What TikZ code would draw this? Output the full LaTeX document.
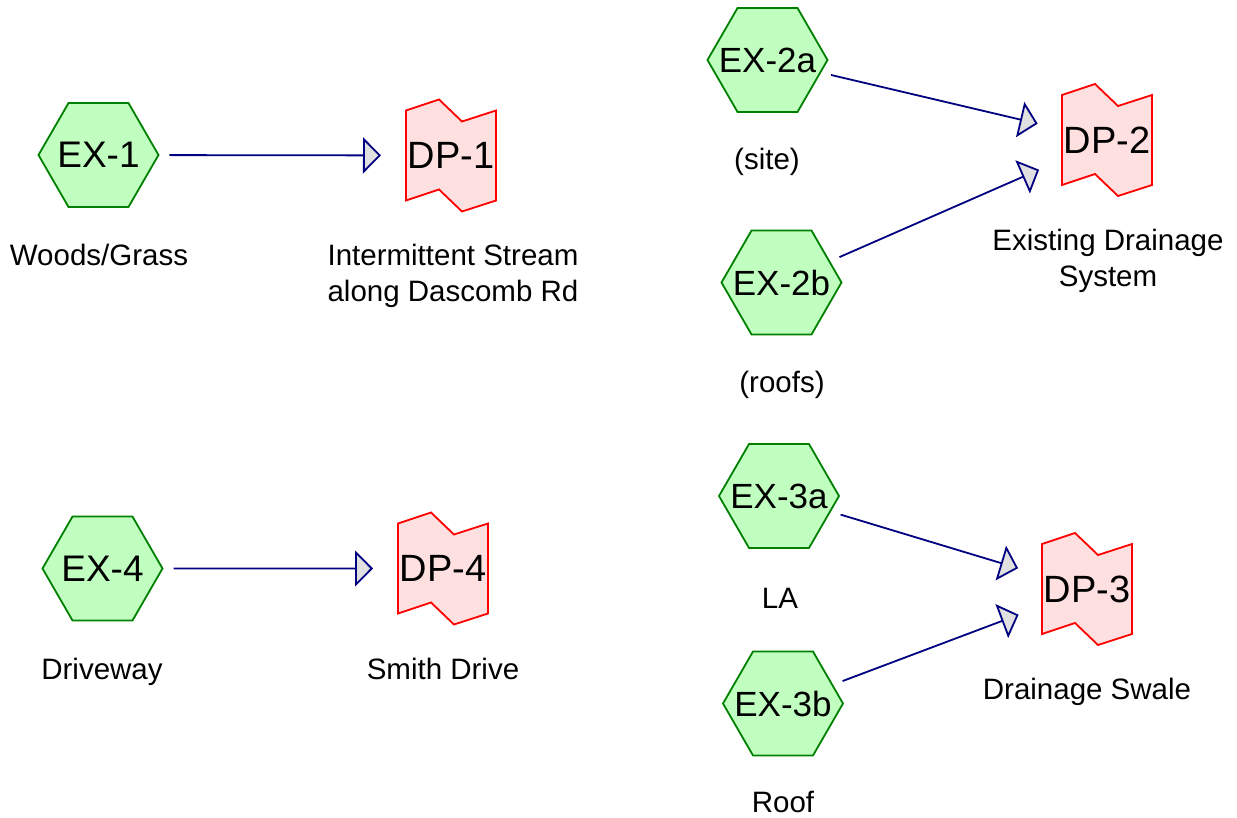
\documentclass[tikz,border=0pt]{standalone}
\usepackage{fontspec}
\setmainfont{Liberation Sans}
\usetikzlibrary{shapes.geometric,arrows.meta,backgrounds}
\definecolor{exfill}{HTML}{C0FFC0}
\definecolor{exdraw}{HTML}{008000}
\definecolor{dpfill}{HTML}{FFE0E0}
\definecolor{dpdraw}{HTML}{FF0000}
\definecolor{flowcol}{HTML}{000080}
\definecolor{tipfill}{HTML}{E0E0E0}
\newcommand{\hxtext}[1]{\makebox[0pt][c]{#1}}
\tikzset{
  exnode/.style={shape=regular polygon, regular polygon sides=6, minimum size=120pt,
    inner sep=0pt, outer sep=0pt, draw=exdraw, fill=exfill, line width=1.8pt,
    font=\fontsize{37}{40}\selectfont},
  exsmall/.style={font=\fontsize{35}{40}\selectfont},
  dpnode/.style={shape=rectangle, minimum width=90pt, minimum height=90pt,
    inner sep=0pt, outer sep=0pt, font=\fontsize{38}{42}\selectfont},
  dpshape/.style={draw=dpdraw, fill=dpfill, line width=1.8pt, line join=miter},
  lbl/.style={inner sep=0pt, outer sep=0pt, font=\fontsize{29.5}{36}\selectfont, align=center},
  flow/.style={draw=flowcol, line width=1.8pt, shorten <=11pt, shorten >=25pt,
    -{Triangle[length=18pt, width=36pt, fill=tipfill]}}
}
\begin{document}
\begin{tikzpicture}[x=1pt,y=-1pt]
\useasboundingbox (0,0) rectangle (1237,818);
% source hexagons
\node[exnode] (ex1)  at (98.5,155)   {\hxtext{EX-1}};
\node[exnode, exsmall] (ex2a) at (767.5,60)   {\hxtext{EX-2a}};
\node[exnode, exsmall] (ex2b) at (781.5,282.5) {\hxtext{EX-2b}};
\node[exnode, exsmall] (ex3a) at (779,496)    {\hxtext{EX-3a}};
\node[exnode, exsmall] (ex3b) at (783,703.5)  {\hxtext{EX-3b}};
\node[exnode] (ex4)  at (102.5,568.5) {\hxtext{EX-4}};
% design points
\node[dpnode] (dp1) at (451,155.5) {DP-1};
\node[dpnode] (dp2) at (1107,140)  {DP-2};
\node[dpnode] (dp3) at (1087,589)  {DP-3};
\node[dpnode] (dp4) at (443,568.5) {DP-4};
\begin{pgfonlayer}{background}
\foreach \d in {dp1,dp2,dp3,dp4}{
  \path[dpshape] (\d.north west) -- ++(33,-11) -- ++(23,22) -- ++(34,-11)
    -- ++(0,90) -- ++(-34,11) -- ++(-23,-22) -- ++(-33,11) -- cycle;
}
\end{pgfonlayer}
% labels
\node[lbl, anchor=base] (lex1) at (99,266) {Woods/Grass};
\node[lbl, anchor=north] (ldp1) at (453,244.5) {Intermittent Stream\\along Dascomb Rd};
\node[lbl, anchor=base] (lex2a) at (767,170) {(site)};
\node[lbl, anchor=base] (lex2b) at (782,392) {(roofs)};
\node[lbl, anchor=north] (ldp2) at (1108,229.5) {Existing Drainage\\System};
\node[lbl, anchor=base] (lex3a) at (780,608) {LA};
\node[lbl, anchor=base] (lex3b) at (783,812) {Roof};
\node[lbl, anchor=base] (ldp3) at (1087,699) {Drainage Swale};
\node[lbl, anchor=base] (lex4) at (102,679) {Driveway};
\node[lbl, anchor=base] (ldp4) at (443,679) {Smith Drive};
% connectors
\draw[flow] (ex1) -- (dp1);
\draw[flow] (ex4) -- (dp4);
\draw[flow] (ex2a) -- (dp2);
\draw[flow] (ex2b) -- (dp2);
\draw[flow] (ex3a) -- (dp3);
\draw[flow] (ex3b) -- (dp3);
\end{tikzpicture}
\end{document}
